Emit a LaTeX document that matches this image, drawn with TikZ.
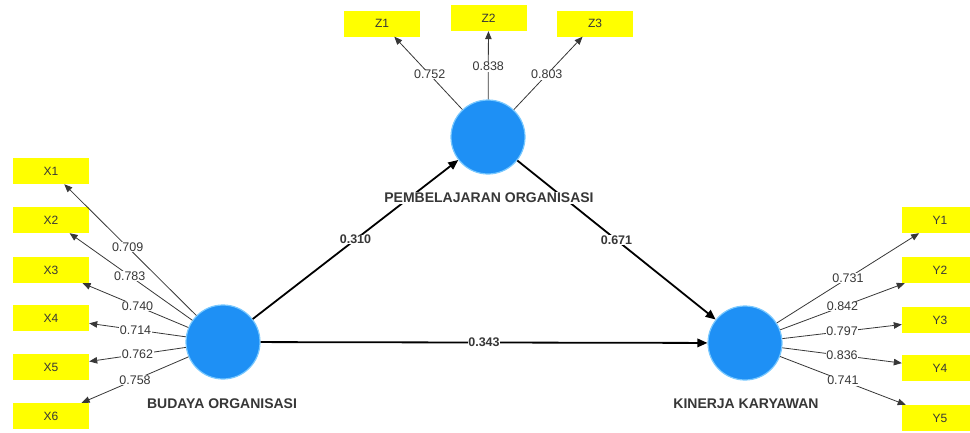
\documentclass[tikz,border=0pt]{standalone}
\usepackage{fontspec}
\setmainfont{Liberation Sans}
\usetikzlibrary{arrows.meta}
\definecolor{lvblue}{RGB}{30,144,245}
\definecolor{lvring}{RGB}{120,200,255}
\definecolor{indyel}{RGB}{255,255,0}
\definecolor{txtgray}{RGB}{55,55,55}
\tikzset{
  latent/.style={circle, fill=lvblue, draw=lvring, line width=1.2pt, minimum size=74pt, inner sep=0pt},
  indbox/.style={rectangle, fill=indyel, minimum width=76pt, minimum height=26pt, inner sep=0pt, font=\fontsize{12}{13}\selectfont, text=txtgray},
  lvname/.style={fill=white, inner sep=1pt, font=\fontsize{14}{15}\selectfont\bfseries, text=txtgray},
  loadline/.style={draw=txtgray, line width=0.8pt, -{Triangle[length=8pt,width=6.5pt]}},
  pathline/.style={draw=black, line width=1.8pt, -{Triangle[length=10pt,width=8.5pt]}},
  loadlab/.style={fill=white, inner sep=0.5pt, font=\fontsize{12.5}{13}\selectfont, text=txtgray},
  pathlab/.style={fill=white, inner sep=0.5pt, font=\fontsize{12.5}{13}\selectfont\bfseries, text=txtgray}
}
\begin{document}
\begin{tikzpicture}[x=1pt,y=-1pt]
\useasboundingbox (0,0) rectangle (970,432);
% latent variables
\node[latent] (B) at (223,342) {};
\node[latent] (P) at (488,137) {};
\node[latent] (K) at (745,343) {};
% X indicators
\node[indbox] (X1) at (51,171) {X1};
\node[indbox] (X2) at (51,220) {X2};
\node[indbox] (X3) at (51,270) {X3};
\node[indbox] (X4) at (51,318) {X4};
\node[indbox] (X5) at (51,367) {X5};
\node[indbox] (X6) at (51,416) {X6};
% Z indicators
\node[indbox] (Z1) at (382,23.5) {Z1};
\node[indbox] (Z2) at (488.5,18) {Z2};
\node[indbox] (Z3) at (595,23.5) {Z3};
% Y indicators
\node[indbox] (Y1) at (940,220) {Y1};
\node[indbox] (Y2) at (940,270) {Y2};
\node[indbox] (Y3) at (940,320) {Y3};
\node[indbox] (Y4) at (940,368) {Y4};
\node[indbox] (Y5) at (940,418) {Y5};
% loadings
\draw[loadline] (B) -- node[loadlab,pos=0.52]{0.709} (X1);
\draw[loadline] (B) -- node[loadlab,pos=0.51]{0.783} (X2);
\draw[loadline] (B) -- node[loadlab,pos=0.48]{0.740} (X3);
\draw[loadline] (B) -- node[loadlab,pos=0.52]{0.714} (X4);
\draw[loadline] (B) -- node[loadlab,pos=0.5]{0.762} (X5);
\draw[loadline] (B) -- node[loadlab,pos=0.5]{0.758} (X6);
\draw[loadline] (P) -- node[loadlab,pos=0.48]{0.752} (Z1);
\draw[loadline] (P) -- node[loadlab,pos=0.48]{0.838} (Z2);
\draw[loadline] (P) -- node[loadlab,pos=0.48]{0.803} (Z3);
\draw[loadline] (K) -- node[loadlab,pos=0.5]{0.731} (Y1);
\draw[loadline] (K) -- node[loadlab,pos=0.5]{0.842} (Y2);
\draw[loadline] (K) -- node[loadlab,pos=0.5]{0.797} (Y3);
\draw[loadline] (K) -- node[loadlab,pos=0.5]{0.836} (Y4);
\draw[loadline] (K) -- node[loadlab,pos=0.5]{0.741} (Y5);
% structural paths
\draw[pathline] (B) -- node[pathlab,pos=0.5]{0.310} (P);
\draw[pathline] (P) -- node[pathlab,pos=0.5]{0.671} (K);
\draw[pathline] (B) -- node[pathlab,pos=0.5]{0.343} (K);
% latent names
\node[lvname] (BL) at (222,404) {BUDAYA ORGANISASI};
\node[lvname] (PL) at (489,198) {PEMBELAJARAN ORGANISASI};
\node[lvname] (KL) at (746,404) {KINERJA KARYAWAN};
\end{tikzpicture}
\end{document}
